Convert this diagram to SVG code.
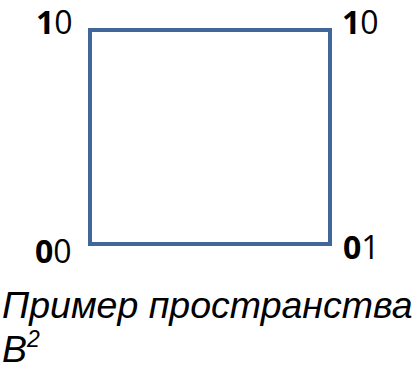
<svg xmlns="http://www.w3.org/2000/svg" width="420" height="369" viewBox="0 0 420 369">
<style>
.lbl{font-family:"Open Sans","Liberation Sans",sans-serif;font-size:32px;fill:#000}
.b{font-weight:bold}
.cap{font-family:"Liberation Sans",Arial,sans-serif;font-style:italic;font-size:37.5px;fill:#000}
</style>
<rect width="420" height="369" fill="#fff"/>
<g id="edges">
<rect x="90" y="30" width="240" height="214" fill="none" stroke="#41679a" stroke-width="4"/>
</g>
<g id="n10a"><text class="lbl" x="36" y="34"><tspan class="b">1</tspan>0</text></g>
<g id="n10b"><text class="lbl" x="342" y="34"><tspan class="b">1</tspan>0</text></g>
<g id="n00"><text class="lbl" x="35" y="263"><tspan class="b">0</tspan>0</text></g>
<g id="n01"><text class="lbl" x="343" y="259"><tspan class="b">0</tspan>1</text></g>
<g id="caption">
<text class="cap" x="2" y="318">Пример пространства</text>
<text class="cap" x="2" y="362">B<tspan font-size="23" dy="-15">2</tspan></text>
</g>
</svg>
